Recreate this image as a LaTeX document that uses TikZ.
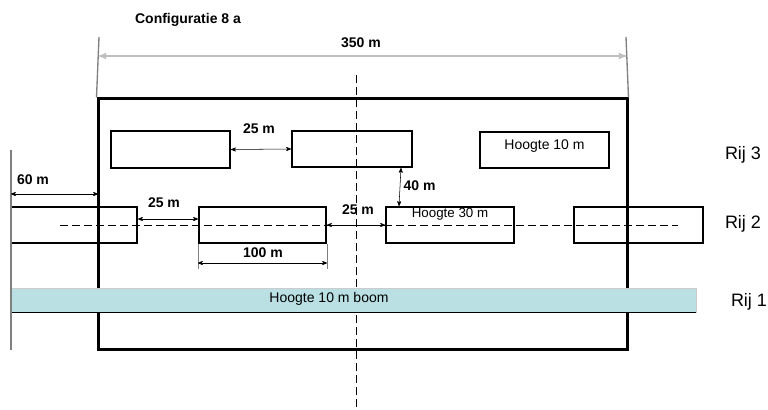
\documentclass[tikz,border=0pt]{standalone}
\usepackage{fontspec}
\setmainfont{Liberation Sans}
\usetikzlibrary{arrows,calc}
\definecolor{boomblauw}{RGB}{186,224,228}

\begin{document}
\begin{tikzpicture}[x=0.75pt,y=-0.75pt,>=stealth',font=\fontsize{10.5}{12}\selectfont]
  \tikzstyle{gebouw}=[draw,line width=1.5pt,inner sep=0pt,minimum height=27pt]
  \tikzstyle{maat}=[<->,thin]
  \tikzstyle{hulp}=[gray,line width=1pt]
  \tikzstyle{as}=[dash pattern=on 6pt off 3pt,thin]
  \tikzstyle{maattekst}=[font=\bfseries\fontsize{10.5}{12}\selectfont,inner sep=1pt]
  \tikzstyle{rij}=[font=\fontsize{13.5}{15}\selectfont]
  \useasboundingbox (0,0) rectangle (768,410);

  % terrein
  \node[draw,line width=2.25pt,minimum width=396.75pt,minimum height=187.5pt] (F) at (362.5,224) {};
  \node[maattekst] (titel) at (188,20) {Configuratie 8 a};

  % hartlijnen
  \coordinate (vb) at (356,75);
  \coordinate (vo) at (356,410);
  \coordinate (hl) at (60,225);
  \coordinate (hr) at (678,225);
  \draw[as] (vb) -- (vo);
  \draw[as] (hl) -- (hr);

  % rij 3
  \node[gebouw,minimum width=89.25pt] (r3a) at (170.5,149.5) {};
  \node[gebouw,minimum width=90pt]    (r3b) at (352,149)   {};
  \node[gebouw,minimum width=96.75pt] (r3c) at (544.5,150) {};
  \node[below=3pt] (t10) at (r3c.north) {Hoogte 10 m};

  % rij 2
  \node[gebouw,minimum width=94.5pt] (r2a) at (74,225)    {};
  \node[gebouw,minimum width=95.25pt] (r2b) at (262.5,225) {};
  \node[gebouw,minimum width=96pt]   (r2c) at (450,225)   {};
  \node[gebouw,minimum width=96.75pt] (r2d) at (638.5,225) {};
  \node[below=0.5pt,inner sep=1pt,font=\fontsize{10}{12}\selectfont] (t30) at (r2c.north) {Hoogte 30 m};

  % rij 1
  \node[fill=boomblauw,draw=gray!40,minimum width=513.75pt,minimum height=18pt,inner sep=0pt] (boom) at (353.5,300) {};
  \draw[thin] (boom.south west) -- (boom.south east);
  \node (tboom) at (329,299) {Hoogte 10 m boom};

  % maatvoering 350 m
  \coordinate (e1) at (99,37);
  \coordinate (e2) at (626,37);
  \draw[hulp] (e1) -- (F.north west);
  \draw[hulp] (e2) -- (F.north east);
  \draw[maat,gray!50,line width=1pt] ($(e1)+(0,19)$) -- ($(e2)+(0,19)$);
  \node[maattekst] (m350) at (361,43) {350 m};

  % maatvoering 60 m
  \coordinate (e3) at (11,150);
  \coordinate (e4) at (11,350);
  \draw[hulp] (e3) -- (e4);
  \draw[maat] ($(e3)+(0,44)$) -- ($(e3)+(87,44)$);
  \node[maattekst] (m60) at (33,180) {60 m};

  % tussenafstanden
  \draw[maat] (r3a.east) -- (r3b.west);
  \node[maattekst] (m25a) at (259,129) {25 m};
  \draw[maat] ([yshift=4.5pt]r2a.east) -- ([yshift=4.5pt]r2b.west);
  \node[maattekst] (m25b) at (164,203) {25 m};
  \draw[maat] (r2b.east) -- (r2c.west);
  \node[maattekst] (m25c) at (358,210) {25 m};
  \draw[maat] ($(r3b.south east)+(-12,0)$) -- ($(r2c.north west)+(14,0)$);
  \node[maattekst,anchor=west] (m40) at (402,186) {40 m};

  % maatvoering 100 m
  \draw[hulp,thin] (r2b.south west) -- ++(0,25);
  \draw[hulp,thin] (r2b.south east) -- ++(0,25);
  \draw[maat] ($(r2b.south west)+(0,19)$) -- ($(r2b.south east)+(0,19)$);
  \node[maattekst] (m100) at (263,253) {100 m};

  % rijen
  \node[rij] (rij3) at (743,155) {Rij 3};
  \node[rij] (rij2) at (743,224) {Rij 2};
  \node[rij] (rij1) at (749,302) {Rij 1};
\end{tikzpicture}
\end{document}
